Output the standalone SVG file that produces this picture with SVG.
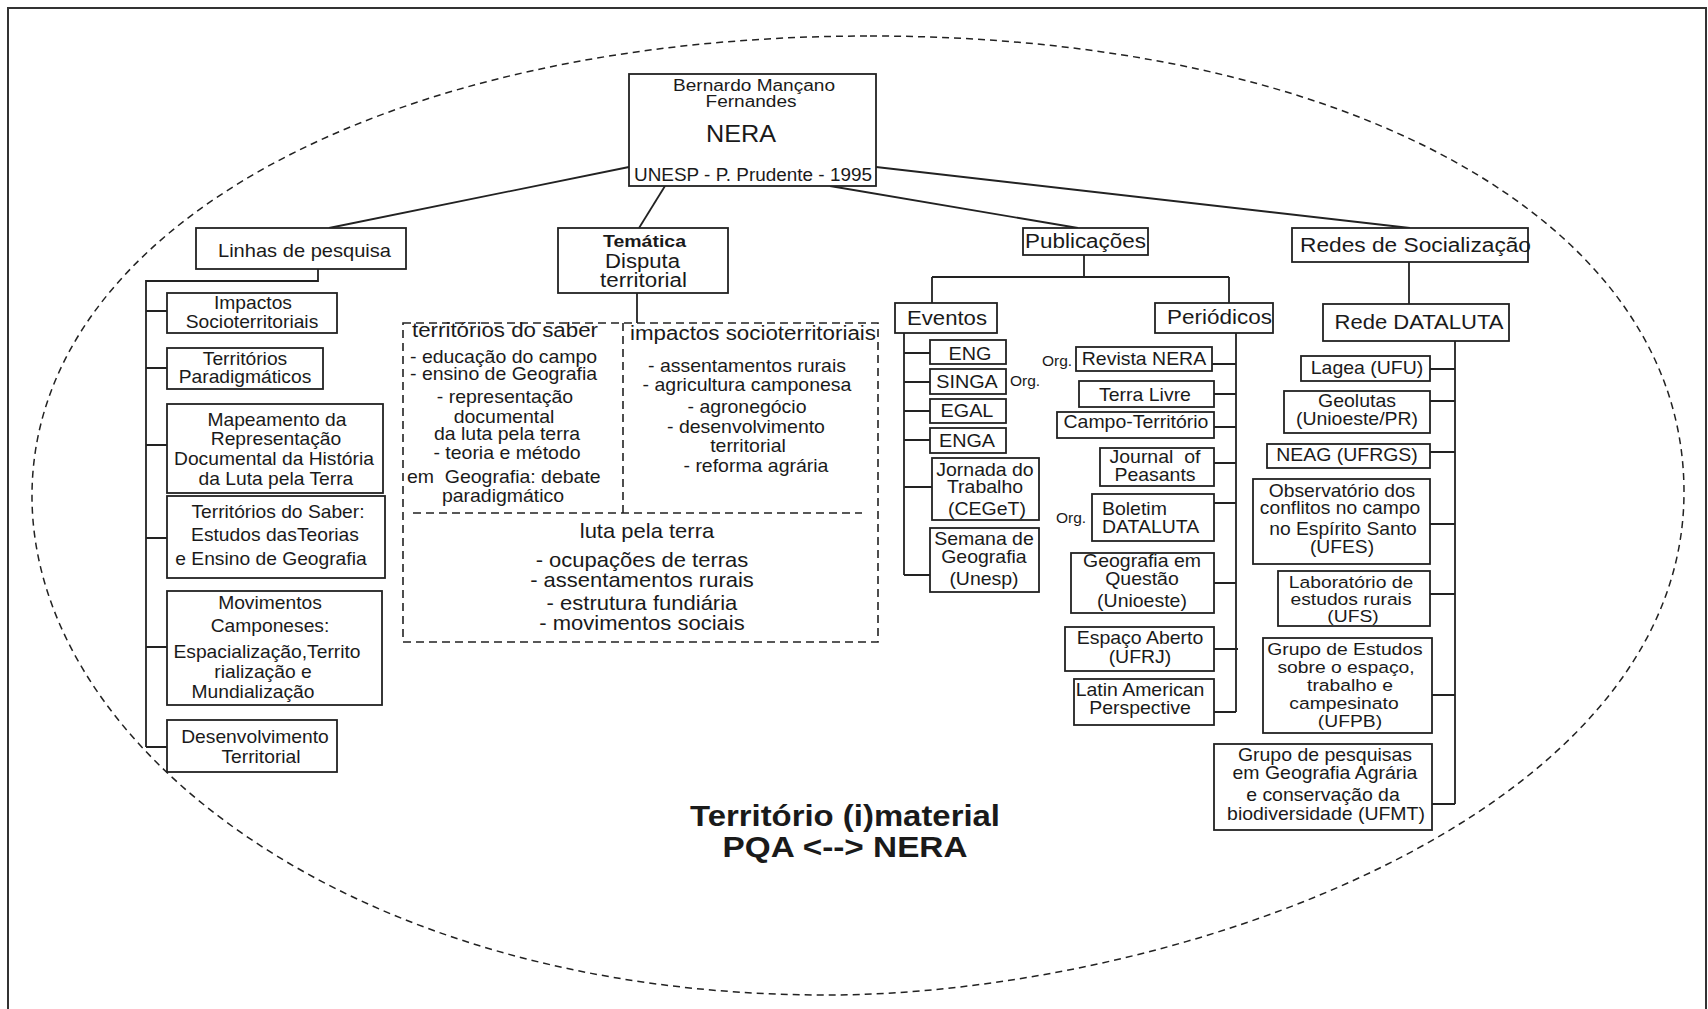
<svg xmlns="http://www.w3.org/2000/svg" width="1708" height="1009" viewBox="0 0 1708 1009">
<defs>
<style>
text{font-family:"Liberation Sans",Arial,sans-serif;fill:#1a1a1a}
.c{text-anchor:middle}
.b{fill:#fff;stroke:#222;stroke-width:1.8}
.ln{fill:none;stroke:#222;stroke-width:1.8}
.dl{fill:none;stroke:#222;stroke-width:1.6;stroke-dasharray:8 5}
.n text,.m text,.p text,.q text,.k text{transform-box:fill-box;transform-origin:center;transform:scaleX(1.1)}
.n text{font-size:17.5px}
.m text{font-size:17.7px}
.p text{font-size:18px}
.q text{font-size:20px}
.k text{font-size:16.5px;transform:scaleX(1.17)}
text.l{transform-origin:left center}
.org{font-size:15.5px!important;transform:none!important}
.ttl{font-size:30px;font-weight:bold}
</style>
</defs>
<rect width="1708" height="1009" fill="#fff"/>
<path d="M8,1009 V8 H1706 V1009" fill="none" stroke="#333" stroke-width="2"/>
<path id="boundary" d="M870,36 C1342,36 1684,218 1684,492 C1684,819 1169,995 826,995 C350,995 32,745.5 32,496 C32,229 384,36 870,36 Z" fill="none" stroke="#222" stroke-width="1.5" stroke-dasharray="7 5"/>

<g id="connectors" class="ln">
<path d="M629,167 L329,228"/>
<path d="M665,186 L639,228"/>
<path d="M830,186 L1078,228"/>
<path d="M876,167 L1410,228"/>
<path d="M318,269 V281 H146 V747"/>
<path d="M146,311 H167 M146,368 H167 M146,445 H167 M146,538 H167 M146,647 H167 M146,747 H167"/>
<path d="M637,293 V323"/>
<path d="M1084,255 V277 M932,277 H1229 M932,277 V303 M1229,277 V303"/>
<path d="M904,333 V575 M904,353 H930 M904,382 H930 M904,411 H930 M904,440 H930 M904,487 H932 M904,575 H930"/>
<path d="M1236,333 V712 M1212,364 H1236 M1214,394 H1236 M1214,427 H1236 M1214,463 H1236 M1214,503 H1236 M1214,583 H1236 M1214,649 H1238 M1214,712 H1236"/>
<path d="M1409,262 V304"/>
<path d="M1455,341 V804 M1430,369 H1455 M1430,401 H1455 M1430,452 H1455 M1430,524 H1455 M1430,594 H1455 M1432,695 H1455 M1432,804 H1455"/>
</g>

<g id="nera">
<rect class="b" x="629" y="74" width="247" height="112"/>
<text class="c" x="754" y="91" font-size="16" textLength="162" lengthAdjust="spacingAndGlyphs">Bernardo Mançano</text>
<text class="c" x="751" y="107" font-size="16" textLength="91" lengthAdjust="spacingAndGlyphs">Fernandes</text>
<text class="c" x="741" y="142" font-size="23" textLength="70" lengthAdjust="spacingAndGlyphs">NERA</text>
<text class="c" x="753" y="181" font-size="17.5" textLength="238" lengthAdjust="spacingAndGlyphs">UNESP - P. Prudente - 1995</text>
</g>

<g id="linhas">
<rect class="b" x="196" y="228" width="210" height="41"/>
<text class="c" x="304.5" y="257" font-size="19" textLength="173" lengthAdjust="spacingAndGlyphs">Linhas de pesquisa</text>
</g>

<g id="tematica">
<rect class="b" x="558" y="228" width="170" height="65"/>
<text class="c" x="644.5" y="247" font-size="17" font-weight="bold" textLength="83" lengthAdjust="spacingAndGlyphs">Temática</text>
<text class="c" x="642.5" y="268" font-size="19.5" textLength="75" lengthAdjust="spacingAndGlyphs">Disputa</text>
<text class="c" x="643.5" y="287" font-size="19.5" textLength="87" lengthAdjust="spacingAndGlyphs">territorial</text>
</g>

<g id="publicacoes">
<rect class="b" x="1023" y="228" width="125" height="27"/>
<text class="c" x="1085.5" y="248" font-size="20" textLength="121" lengthAdjust="spacingAndGlyphs">Publicações</text>
</g>

<g id="redes">
<rect class="b" x="1292" y="228" width="236" height="34"/>
<text x="1300" y="252" font-size="20" textLength="231" lengthAdjust="spacingAndGlyphs">Redes de Socialização</text>
</g>

<g id="impactos" class="n">
<rect class="b" x="167" y="293" width="170" height="40"/>
<text class="c" x="253" y="309">Impactos</text>
<text class="c" x="252" y="328">Socioterritoriais</text>
</g>
<g id="territorios-paradigmaticos" class="n">
<rect class="b" x="167" y="348" width="156" height="41"/>
<text class="c" x="245" y="365">Territórios</text>
<text class="c" x="245" y="383">Paradigmáticos</text>
</g>
<g id="mapeamento" class="n">
<rect class="b" x="167" y="404" width="216" height="89"/>
<text class="c" x="277" y="426">Mapeamento da</text>
<text class="c" x="276" y="445">Representação</text>
<text class="c" x="274" y="465">Documental da História</text>
<text class="c" x="276" y="485">da Luta pela Terra</text>
</g>
<g id="territorios-saber" class="n">
<rect class="b" x="167" y="496" width="218" height="82"/>
<text class="c" x="278" y="518">Territórios do Saber:</text>
<text class="c" x="275" y="541">Estudos dasTeorias</text>
<text class="c" x="271" y="565">e Ensino de Geografia</text>
</g>
<g id="movimentos" class="n">
<rect class="b" x="167" y="591" width="215" height="114"/>
<text class="c" x="270" y="609">Movimentos</text>
<text class="c" x="270" y="632">Camponeses:</text>
<text class="c" x="267" y="658">Espacialização,Territo</text>
<text class="c" x="263" y="678">rialização e</text>
<text class="c" x="253" y="698">Mundialização</text>
</g>
<g id="desenvolvimento" class="n">
<rect class="b" x="167" y="720" width="170" height="52"/>
<text class="c" x="255" y="743">Desenvolvimento</text>
<text class="c" x="261" y="763">Territorial</text>
</g>

<g id="tematica-conteudo">
<rect class="dl" x="403" y="323" width="475" height="319"/>
<path class="dl" d="M623,323 V513 M413,513 H862"/>
<text x="412" y="337" font-size="20" textLength="186" lengthAdjust="spacingAndGlyphs">territórios do saber</text>
<g class="m">
<text class="l" x="410" y="363">- educação do campo</text>
<text class="l" x="410" y="380">- ensino de Geografia</text>
<text class="c" x="505" y="403">- representação</text>
<text class="c" x="504" y="423">documental</text>
<text class="c" x="507" y="440">da luta pela terra</text>
<text class="c" x="507" y="459">- teoria e método</text>
<text class="l" x="407" y="483" style="white-space:pre">em  Geografia: debate</text>
<text class="c" x="503" y="502">paradigmático</text>
</g>
<text x="630" y="340" font-size="20" textLength="246" lengthAdjust="spacingAndGlyphs">impactos socioterritoriais</text>
<g class="m">
<text class="c" x="747" y="372">- assentamentos rurais</text>
<text class="c" x="747" y="391">- agricultura camponesa</text>
<text class="c" x="747" y="413">- agronegócio</text>
<text class="c" x="746" y="433">- desenvolvimento</text>
<text class="c" x="748" y="452">territorial</text>
<text class="c" x="756" y="472">- reforma agrária</text>
</g>
<g class="q">
<text class="c" x="647" y="538">luta pela terra</text>
<text class="c" x="642" y="567">- ocupações de terras</text>
<text class="c" x="642" y="587">- assentamentos rurais</text>
<text class="c" x="642" y="610">- estrutura fundiária</text>
<text class="c" x="642" y="630">- movimentos sociais</text>
</g>
</g>

<g id="eventos">
<rect class="b" x="895" y="303" width="102" height="30"/>
<text class="c" x="947" y="325" font-size="20" textLength="80" lengthAdjust="spacingAndGlyphs">Eventos</text>
</g>
<g id="eng" class="p">
<rect class="b" x="930" y="340" width="76" height="24"/>
<text class="c" x="970" y="360">ENG</text>
</g>
<g id="singa" class="p">
<rect class="b" x="930" y="369" width="76" height="25"/>
<text class="c" x="967" y="388">SINGA</text>
<text class="org" x="1010" y="386">Org.</text>
</g>
<g id="egal" class="p">
<rect class="b" x="930" y="399" width="76" height="24"/>
<text class="c" x="967" y="417">EGAL</text>
</g>
<g id="enga" class="p">
<rect class="b" x="930" y="428" width="76" height="25"/>
<text class="c" x="967" y="447">ENGA</text>
</g>
<g id="jornada" class="m">
<rect class="b" x="932" y="458" width="107" height="62"/>
<text class="c" x="985" y="476">Jornada do</text>
<text class="c" x="985" y="493">Trabalho</text>
<text class="c" x="987" y="515">(CEGeT)</text>
</g>
<g id="semana" class="m">
<rect class="b" x="930" y="528" width="109" height="64"/>
<text class="c" x="984" y="545">Semana de</text>
<text class="c" x="984" y="563">Geografia</text>
<text class="c" x="984" y="585">(Unesp)</text>
</g>

<g id="periodicos">
<rect class="b" x="1155" y="303" width="118" height="30"/>
<text x="1167" y="324" font-size="20" textLength="105" lengthAdjust="spacingAndGlyphs">Periódicos</text>
</g>
<g id="revista-nera" class="m">
<rect class="b" x="1076" y="347" width="136" height="24"/>
<text class="c" x="1144" y="365">Revista NERA</text>
<text class="org" x="1042" y="366">Org.</text>
</g>
<g id="terra-livre" class="m">
<rect class="b" x="1079" y="381" width="135" height="26"/>
<text class="c" x="1145" y="401">Terra Livre</text>
</g>
<g id="campo-territorio" class="m">
<rect class="b" x="1057" y="412" width="157" height="26"/>
<text class="c" x="1136" y="428">Campo-Território</text>
</g>
<g id="journal" class="m">
<rect class="b" x="1100" y="448" width="114" height="38"/>
<text class="c" x="1155" y="463" style="white-space:pre">Journal  of</text>
<text class="c" x="1155" y="481">Peasants</text>
</g>
<g id="boletim" class="m">
<rect class="b" x="1092" y="494" width="122" height="47"/>
<text class="l" x="1102" y="515">Boletim</text>
<text class="l" x="1102" y="533">DATALUTA</text>
<text class="org" x="1056" y="523">Org.</text>
</g>
<g id="geografia-questao" class="m">
<rect class="b" x="1071" y="553" width="143" height="60"/>
<text class="c" x="1142" y="567">Geografia em</text>
<text class="c" x="1142" y="585">Questão</text>
<text class="c" x="1142" y="607">(Unioeste)</text>
</g>
<g id="espaco-aberto" class="m">
<rect class="b" x="1065" y="627" width="149" height="44"/>
<text class="c" x="1140" y="644">Espaço Aberto</text>
<text class="c" x="1140" y="663">(UFRJ)</text>
</g>
<g id="latin-american" class="m">
<rect class="b" x="1074" y="679" width="140" height="46"/>
<text class="c" x="1140" y="696">Latin American</text>
<text class="c" x="1140" y="714">Perspective</text>
</g>

<g id="rede-dataluta">
<rect class="b" x="1323" y="304" width="186" height="37"/>
<text class="c" x="1419" y="329" font-size="19.5" textLength="169" lengthAdjust="spacingAndGlyphs">Rede DATALUTA</text>
</g>
<g id="lagea" class="m">
<rect class="b" x="1301" y="356" width="129" height="25"/>
<text class="c" x="1367" y="374">Lagea (UFU)</text>
</g>
<g id="geolutas" class="m">
<rect class="b" x="1284" y="391" width="146" height="42"/>
<text class="c" x="1357" y="407">Geolutas</text>
<text class="c" x="1357" y="425">(Unioeste/PR)</text>
</g>
<g id="neag" class="m">
<rect class="b" x="1267" y="444" width="163" height="24"/>
<text class="c" x="1347" y="461">NEAG (UFRGS)</text>
</g>
<g id="observatorio" class="n">
<rect class="b" x="1253" y="479" width="177" height="85"/>
<text class="c" x="1342" y="497">Observatório dos</text>
<text class="c" x="1340" y="514">conflitos no campo</text>
<text class="c" x="1343" y="535">no Espírito Santo</text>
<text class="c" x="1342" y="553">(UFES)</text>
</g>
<g id="laboratorio" class="k">
<rect class="b" x="1278" y="571" width="152" height="55"/>
<text class="c" x="1351" y="588">Laboratório de</text>
<text class="c" x="1351" y="605">estudos rurais</text>
<text class="c" x="1353" y="622">(UFS)</text>
</g>
<g id="grupo-estudos" class="k">
<rect class="b" x="1263" y="638" width="169" height="95"/>
<text class="c" x="1345" y="655">Grupo de Estudos</text>
<text class="c" x="1346" y="673">sobre o espaço,</text>
<text class="c" x="1350" y="691">trabalho e</text>
<text class="c" x="1344" y="709">campesinato</text>
<text class="c" x="1350" y="727">(UFPB)</text>
</g>
<g id="grupo-pesquisas" class="m">
<rect class="b" x="1214" y="744" width="218" height="86"/>
<text class="c" x="1325" y="761">Grupo de pesquisas</text>
<text class="c" x="1325" y="779">em Geografia Agrária</text>
<text class="c" x="1323" y="801">e conservação da</text>
<text class="c" x="1326" y="820">biodiversidade (UFMT)</text>
</g>

<g id="titulo">
<text class="c ttl" x="845" y="826" textLength="310" lengthAdjust="spacingAndGlyphs">Território (i)material</text>
<text class="c ttl" x="845" y="857" textLength="245" lengthAdjust="spacingAndGlyphs">PQA &lt;--&gt; NERA</text>
</g>
</svg>
